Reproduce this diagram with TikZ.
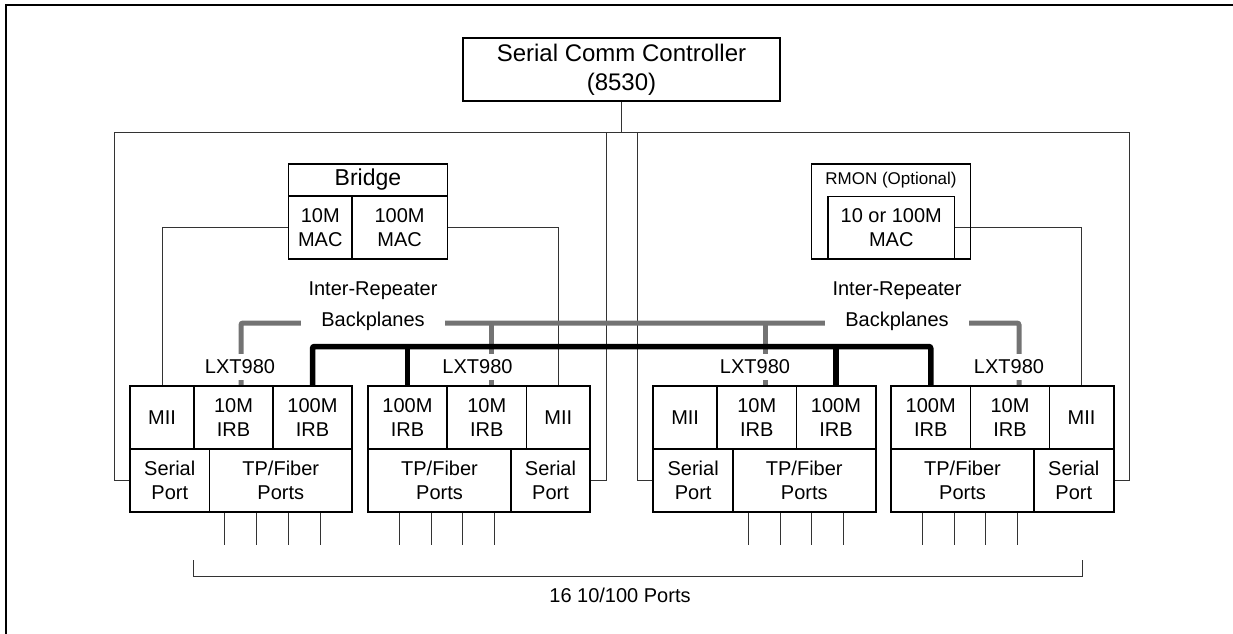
\documentclass[tikz,border=0pt]{standalone}
\usepackage{fontspec}
\setmainfont{Liberation Sans}
\usetikzlibrary{backgrounds,calc}
\newcommand{\rbx}[7]{\node[#1,minimum width={(#5-#3)*1bp},minimum height={(#6-#4)*1bp}] (#2) at ({(#3+#5)/2},{(#4+#6)/2}) {#7};}
\begin{document}
\begin{tikzpicture}[x=1bp,y=-1bp,
  cell/.style={draw=black,line width=1.1bp,inner sep=0pt,align=center,font=\fontsize{20bp}{24.5bp}\selectfont},
  chip/.style={draw=black,line width=2bp,inner sep=0pt},
  wire/.style={draw=black!80,line width=1bp},
  gbus/.style={draw=black!55,line width=5bp,rounded corners=2bp},
  kbus/.style={draw=black,line width=5.5bp,rounded corners=2bp},
  lbl/.style={inner sep=0pt,align=center,font=\fontsize{20bp}{24bp}\selectfont},
  gap/.style={lbl,fill=white,inner xsep=2bp,inner ysep=5.5bp},
]
\useasboundingbox (0,0) rectangle (1233,634);
% frame (top and left edges visible)
\draw[line width=2bp] (6,634) -- (6,5) -- (1233,5);

% Serial comm controller
\rbx{cell,line width=1.3bp,font=\fontsize{24bp}{29bp}\selectfont}{scc}{463}{38}{780}{101}{Serial Comm Controller\\(8530)}

% Bridge
\rbx{cell,line width=1.3bp,font=\fontsize{23bp}{26bp}\selectfont}{brt}{288.6}{164}{447.2}{196}{Bridge}
\rbx{cell,line width=1.3bp}{br10}{288.6}{196}{352}{259}{10M\\MAC}
\rbx{cell,line width=1.3bp}{br100}{352}{196}{447.2}{259}{100M\\MAC}

% RMON
\rbx{cell,line width=1.3bp}{rm}{811.8}{164}{970.7}{259}{}
\node[lbl,font=\fontsize{17bp}{20bp}\selectfont] (rmt) at (891,180.5) {RMON (Optional)};
\rbx{cell,line width=1.3bp}{rmm}{828}{196.5}{954.5}{259}{10 or 100M\\MAC}

% Inter-Repeater labels
\node[lbl] (ir1) at (373,291) {Inter-Repeater};
\node[lbl] (ir2) at (897,291) {Inter-Repeater};

% Chip 1
\rbx{cell}{m1}{130}{386}{194}{449}{MII}
\rbx{cell}{t1}{194}{386}{273}{449}{10M\\IRB}
\rbx{cell}{h1}{273}{386}{352}{449}{100M\\IRB}
\rbx{cell}{s1}{130}{449}{209.5}{512}{Serial\\Port}
\rbx{cell}{p1}{209.5}{449}{352}{512}{TP/Fiber\\Ports}
\rbx{chip}{b1}{130}{386}{352}{512}{}
% Chip 2
\rbx{cell}{h2}{368}{386}{447}{449}{100M\\IRB}
\rbx{cell}{t2}{447}{386}{526.5}{449}{10M\\IRB}
\rbx{cell}{m2}{526.5}{386}{590}{449}{MII}
\rbx{cell}{p2}{368}{449}{511}{512}{TP/Fiber\\Ports}
\rbx{cell}{s2}{511}{449}{590}{512}{Serial\\Port}
\rbx{chip}{b2}{368}{386}{590}{512}{}
% Chip 3
\rbx{cell}{m3}{653.3}{386}{717}{449}{MII}
\rbx{cell}{t3}{717}{386}{796.5}{449}{10M\\IRB}
\rbx{cell}{h3}{796.5}{386}{875.5}{449}{100M\\IRB}
\rbx{cell}{s3}{653.3}{449}{733}{512}{Serial\\Port}
\rbx{cell}{p3}{733}{449}{875.5}{512}{TP/Fiber\\Ports}
\rbx{chip}{b3}{653.3}{386}{875.5}{512}{}
% Chip 4
\rbx{cell}{h4}{891}{386}{970.5}{449}{100M\\IRB}
\rbx{cell}{t4}{970.5}{386}{1049.5}{449}{10M\\IRB}
\rbx{cell}{m4}{1049.5}{386}{1113.5}{449}{MII}
\rbx{cell}{p4}{891}{449}{1034}{512}{TP/Fiber\\Ports}
\rbx{cell}{s4}{1034}{449}{1113.5}{512}{Serial\\Port}
\rbx{chip}{b4}{891}{386}{1113.5}{512}{}

% labels that interrupt the grey bus
\node[gap,inner xsep=20bp,inner ysep=2bp] (bp1) at (373,321) {Backplanes};
\node[gap,inner xsep=20bp,inner ysep=2bp] (bp2) at (897,321) {Backplanes};
\node[gap] (lx1) at (240,367) {LXT980};
\node[gap] (lx2) at (477.5,367) {LXT980};
\node[gap] (lx3) at (755,367) {LXT980};
\node[gap] (lx4) at (1009,367) {LXT980};

% ports label
\node[lbl] (ports) at (620,595) {16 10/100 Ports};

% junction coordinates
\coordinate (hl) at (0,133);
\coordinate (sl) at (114.5,133);
\coordinate (sr) at (1129,133);
\coordinate (v2) at (606,133);
\coordinate (v3) at (637.5,133);
\coordinate (g1) at (241,323);
\coordinate (g2) at (491,323);
\coordinate (g3) at (765,323);
\coordinate (g4) at (1019,323);
\coordinate (kb) at (0,346.5);
\coordinate (bl) at (193.7,560);
\coordinate (br) at (1082,560);
\coordinate (bb) at (0,576);

\begin{pgfonlayer}{background}
% serial management lines
\draw[wire] (scc.south) -- (scc.south |- hl);
\draw[wire] (s1.west) -| (sl) -- (sr) |- (s4.east);
\draw[wire] (s2.east) -| (v2);
\draw[wire] (s3.west) -| (v3);
% MAC to MII
\draw[wire] (br10.west) -| (m1.north);
\draw[wire] (br100.east) -| (m2.north);
\draw[wire] (rmm.east) -| (m4.north);
% grey 10M backplane
\draw[gbus] (g1 |- b1.north) -- (g1) -- (g4) -- (g4 |- b4.north);
\draw[gbus] (g2) -- (g2 |- b2.north);
\draw[gbus] (g3) -- (g3 |- b3.north);
% black 100M backplane
\draw[kbus] (h1.north) -- (h1.north |- kb) -- (h4.north |- kb) -- (h4.north);
\draw[kbus] (h2.north |- kb) -- (h2.north);
\draw[kbus] (h3.north |- kb) -- (h3.north);
% port lines
\foreach \d in {16,47.7,79.4,111.1} {
  \draw[wire] ([xshift=\d bp]p1.south west) -- ++(0,32.5);
  \draw[wire] ([xshift=\d bp]p3.south west) -- ++(0,32.5);
}
\foreach \d in {32,63.7,95.4,127.1} {
  \draw[wire] ([xshift=\d bp]p2.south west) -- ++(0,32.5);
  \draw[wire] ([xshift=\d bp]p4.south west) -- ++(0,32.5);
}
% bracket
\draw[wire] (bl) -- (bl |- bb) -- (br |- bb) -- (br);
\end{pgfonlayer}
\end{tikzpicture}
\end{document}
